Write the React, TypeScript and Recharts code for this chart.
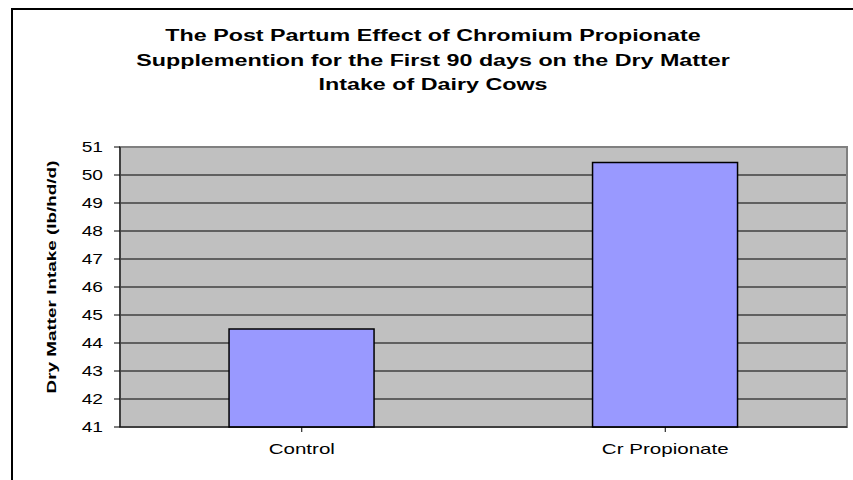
import React from "react";
import { BarChart, Bar, XAxis, YAxis, CartesianGrid, ReferenceArea } from "recharts";

const categories = ["Control", "Cr Propionate"];
const dmiValues = [44.5, 50.45];
const yTicks = [41, 42, 43, 44, 45, 46, 47, 48, 49, 50, 51];
const titleLines = [
  "The Post Partum Effect of Chromium Propionate",
  "Supplemention for the First 90 days on the Dry Matter",
  "Intake  of Dairy Cows",
];
const yLabel = "Dry Matter Intake (lb/hd/d)";

const data = categories.map((c, i) => ({ name: c, value: dmiValues[i] }));

const FONT = "'Liberation Sans', Arial, sans-serif";
const STRETCH = 1.37;

const YTick = (props: any) => {
  const { x, y, payload } = props;
  return (
    <g transform={`translate(${x},${y})`}>
      <text transform={`scale(${STRETCH},1)`} textAnchor="end" dominantBaseline="central" fontFamily={FONT} fontSize={14} fill="#000">
        {payload.value}
      </text>
    </g>
  );
};

const XTick = (props: any) => {
  const { x, y, payload } = props;
  return (
    <g transform={`translate(${x},${y})`}>
      <text transform={`scale(${STRETCH},1)`} textAnchor="middle" y={16} fontFamily={FONT} fontSize={15} fill="#000">
        {payload.value}
      </text>
    </g>
  );
};

export default function App() {
  return (
    <div style={{ position: "absolute", left: 0, top: 0, width: 853, height: 480, overflow: "hidden", background: "#fff", fontFamily: FONT }}>
      <div style={{ position: "absolute", left: 11, top: 8, width: 900, height: 600, border: "2px solid #000", boxSizing: "border-box" }} />
      <div style={{ position: "absolute", left: 0, top: 0 }}>
        <BarChart width={853} height={480} data={data} margin={{ top: 147, right: 6, bottom: 0, left: 0 }} barCategoryGap="30%">
          <CartesianGrid vertical={false} fill="#c0c0c0" fillOpacity={1} stroke="#000" strokeWidth={1} />
          <ReferenceArea y1={41} y2={51} fill="none" stroke="#808080" strokeWidth={2} ifOverflow="visible" />
          <XAxis dataKey="name" height={53} axisLine={{ stroke: "#000" }} tickLine={{ stroke: "#000" }} tickSize={5} tickMargin={6}
            tick={<XTick />} />
          <YAxis domain={[41, 51]} ticks={yTicks} interval={0} width={120} axisLine={{ stroke: "#000" }} tickLine={{ stroke: "#000" }} tickSize={6} tickMargin={11}
            tick={<YTick />} />
          <Bar dataKey="value" fill="#9999ff" stroke="#000" strokeWidth={1.5} isAnimationActive={false} />
        </BarChart>
      </div>
      <svg width={853} height={480} style={{ position: "absolute", left: 0, top: 0, pointerEvents: "none" }}>
        {titleLines.map((t, i) => (
          <g key={i} transform={`translate(${433},${41 + i * 24.5})`}>
            <text transform={`scale(${STRETCH},1)`} textAnchor="middle" fontFamily={FONT} fontWeight="bold" fontSize={17} fill="#000">
              {t}
            </text>
          </g>
        ))}
        <g transform={`translate(51,277) rotate(-90)`}>
          <text transform={`scale(1.4,1)`} textAnchor="middle" dominantBaseline="central" fontFamily={FONT} fontWeight="bold" fontSize={13.5} fill="#000">
            {yLabel}
          </text>
        </g>
      </svg>
    </div>
  );
}
